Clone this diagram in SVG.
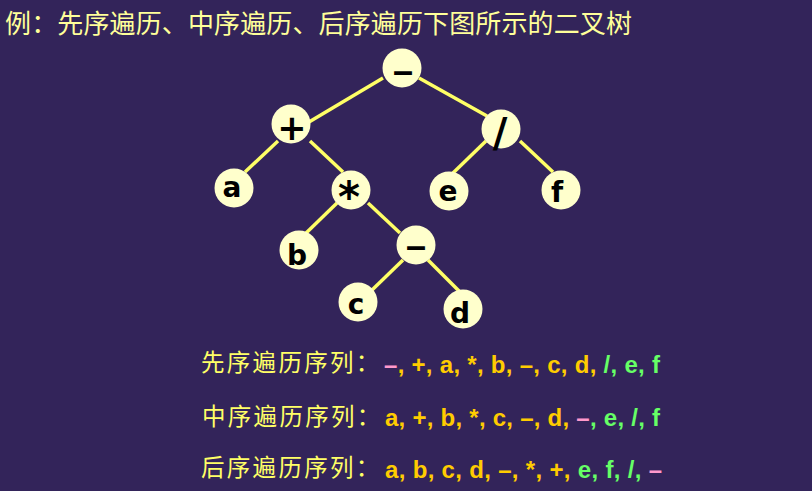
<svg xmlns="http://www.w3.org/2000/svg" width="812" height="491" viewBox="0 0 812 491">
<style>
.edge{stroke:#FFFF66;stroke-width:3.5;stroke-linecap:butt;fill:none}
.nc{fill:#FFFFCC}
.nt{font-family:"DejaVu Sans",sans-serif;font-weight:bold;font-size:28px;fill:#000;text-anchor:middle}
.dash{font-family:"Liberation Sans",Arial,sans-serif;font-size:36px}
.cn{font-family:"Noto Sans CJK SC",sans-serif;font-size:23.5px;fill:#FFFF66;letter-spacing:2.3px}
.seq{font-family:"Liberation Sans",Arial,sans-serif;font-weight:bold;font-size:24px}
.o{fill:#FFCC00}.p{fill:#FF99CC}.g{fill:#66FF66}
</style>
<rect width="812" height="491" fill="#33245A"/>
<text x="5" y="33" font-family="Noto Sans CJK SC,sans-serif" font-size="26" fill="#FFFF99" textLength="627" lengthAdjust="spacing">例：先序遍历、中序遍历、后序遍历下图所示的二叉树</text>
<g id="connectors">
<line class="edge" x1="383" y1="78" x2="309" y2="122"/>
<line class="edge" x1="419" y1="78" x2="487" y2="116"/>
<line class="edge" x1="278" y1="141" x2="245" y2="172"/>
<line class="edge" x1="310" y1="141" x2="343" y2="172"/>
<line class="edge" x1="486" y1="141" x2="453" y2="173"/>
<line class="edge" x1="520" y1="141" x2="553" y2="172"/>
<line class="edge" x1="337" y1="203" x2="303" y2="236"/>
<line class="edge" x1="368" y1="203" x2="400" y2="233"/>
<line class="edge" x1="403" y1="260" x2="371" y2="291"/>
<line class="edge" x1="428" y1="260" x2="459" y2="291"/>
</g>
<g id="n-root"><circle class="nc" cx="402" cy="68" r="19.5"/><text class="nt dash" x="403" y="83">–</text></g>
<g id="n-plus"><circle class="nc" cx="291" cy="124" r="19.5"/><text class="nt" x="292" y="140" style="font-size:35px">+</text></g>
<g id="n-div"><circle class="nc" cx="501" cy="129" r="19.5"/><text class="nt" x="500" y="147" style="font-size:40px">/</text></g>
<g id="n-a"><circle class="nc" cx="234" cy="188" r="19.5"/><text class="nt" x="232" y="197">a</text></g>
<g id="n-mul"><circle class="nc" cx="351" cy="190" r="19.5"/><text class="nt" x="349" y="211.5" style="font-size:42px">*</text></g>
<g id="n-e"><circle class="nc" cx="449" cy="191" r="19.5"/><text class="nt" x="448" y="201">e</text></g>
<g id="n-f"><circle class="nc" cx="561" cy="190" r="19.5"/><text class="nt" x="557" y="202">f</text></g>
<g id="n-b"><circle class="nc" cx="299" cy="250" r="19.5"/><text class="nt" x="297" y="265">b</text></g>
<g id="n-minus"><circle class="nc" cx="416" cy="245" r="19.5"/><text class="nt dash" x="416" y="258">–</text></g>
<g id="n-c"><circle class="nc" cx="358" cy="302" r="19.5"/><text class="nt" x="356" y="314">c</text></g>
<g id="n-d"><circle class="nc" cx="463" cy="309" r="19.5"/><text class="nt" x="460" y="323">d</text></g>
<text class="cn" x="201" y="371">先序遍历序列：</text>
<text class="seq" x="384" y="373" textLength="276" lengthAdjust="spacing"><tspan class="p">–</tspan><tspan class="o">, +, a, *, b, –, c, d, </tspan><tspan class="g">/, e, f</tspan></text>
<text class="cn" x="202" y="425">中序遍历序列：</text>
<text class="seq" x="385" y="426" textLength="275" lengthAdjust="spacing"><tspan class="o">a, +, b, *, c, –, d, </tspan><tspan class="p">–</tspan><tspan class="g">, e, /, f</tspan></text>
<text class="cn" x="201" y="476">后序遍历序列：</text>
<text class="seq" x="385" y="478" textLength="277" lengthAdjust="spacing"><tspan class="o">a, b, c, d, –, *, +, </tspan><tspan class="g">e, f, /, </tspan><tspan class="p">–</tspan></text>
</svg>
